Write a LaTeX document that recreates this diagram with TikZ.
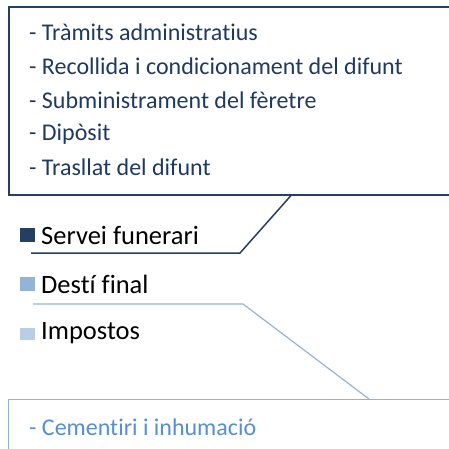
\documentclass[tikz,border=0pt]{standalone}
\usepackage{fontspec}
\setmainfont[Ligatures=NoCommon]{Carlito}
\definecolor{navy}{HTML}{243F60}
\definecolor{navytext}{HTML}{1F3A60}
\definecolor{midblue}{HTML}{95B3D7}
\definecolor{paleblue}{HTML}{B9CDE5}
\definecolor{skytext}{HTML}{558ED5}

\begin{document}
\begin{tikzpicture}[x=1pt, y=-1pt]
    \useasboundingbox (0,0) rectangle (449,448);
    \clip (0,0) rectangle (449,448);

    % Boxes (they run on past the right edge)
    \node[draw=navy, line width=1.5pt, anchor=north west, minimum width=470pt, minimum height=188pt, inner sep=0pt] (serveis) at (8,6) {};
    \node[draw=midblue, line width=1.2pt, anchor=north west, minimum width=470pt, minimum height=80pt, inner sep=0pt] (desti) at (8,399) {};

    % Items in the top box
    \foreach \y/\txt/\nm in {32/Tràmits administratius/t1, 66/Recollida i condicionament del difunt/t2, 100/Subministrament del fèretre/t3, 134/Dipòsit/t4, 167/Trasllat del difunt/t5} {
        \node[anchor=west, inner sep=0pt, text=navytext, font=\fontsize{24}{28}\selectfont] (\nm) at (29,\y) {- \txt};
    }

    % Item in the bottom box
    \node[anchor=west, inner sep=0pt, text=skytext, font=\fontsize{24}{28}\selectfont] (c1) at (29,427) {- Cementiri i inhumació};

    % Legend entries
    \fill[navy] (20,228) rectangle (35,242);
    \node[anchor=west, inner sep=0pt, font=\fontsize{26.5}{30}\selectfont] (funerari) at (41,235) {Servei funerari};
    \fill[midblue] (20,277) rectangle (35,291);
    \node[anchor=west, inner sep=0pt, font=\fontsize{26.5}{30}\selectfont] (final) at (41,284) {Destí final};
    \fill[paleblue] (20,328) rectangle (35,340);
    \node[anchor=west, inner sep=0pt, font=\fontsize{26.5}{30}\selectfont] (impostos) at (41,333) {Impostos};

    % Callout lines
    \coordinate (u1) at (31,253);
    \coordinate (u2) at (33,304);
    \draw[navy, line width=1.5pt] (serveis.south -| 291,0) -- (240,253) -- (u1);
    \draw[midblue, line width=1.2pt] (u2) -- (243,304) -- (desti.north -| 369,0);
\end{tikzpicture}
\end{document}
